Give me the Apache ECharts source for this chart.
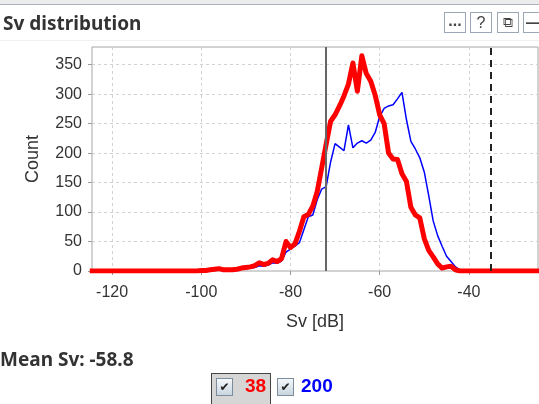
<!DOCTYPE html>
<html>
<head>
<meta charset="utf-8">
<script src="https://cdn.jsdelivr.net/npm/echarts@6/dist/echarts.min.js"></script>
<style>
  html, body { margin: 0; padding: 0; background: #fff; }
  #wrap { position: relative; width: 539px; height: 404px; overflow: hidden; font-family: "Liberation Sans", Arial, sans-serif; }
  #chart { position: absolute; left: 0; top: 0; width: 539px; height: 404px; }
  .topband { position: absolute; left: 0; top: 0; width: 539px; height: 4px; background: #ececec; border-bottom: 1px solid #aab1b8; }
  .hdrline { position: absolute; left: 0; top: 40px; width: 539px; height: 1px; background: #f0f0f0; }
  .title { position: absolute; left: 3px; top: 10px; font: bold 19px "Noto Sans", sans-serif; color: #333; }
  .btn { position: absolute; top: 12px; width: 20px; height: 19px; border: 1px solid #9aa8b6; background: #fff; color: #444; text-align: center; font: 16px "Liberation Sans", sans-serif; line-height: 19px; }
  .mean { position: absolute; left: 0; top: 346px; font: bold 19px "Noto Sans", sans-serif; color: #333; }
  .legbox { position: absolute; left: 211px; top: 373px; width: 58px; height: 32px; background: #d6d6d6; border: 1px solid #444; }
  .chk { position: absolute; top: 378px; width: 15px; height: 16px; border: 1px solid #7d8d9c; background: linear-gradient(#f4f8fb, #c9d5df); font: bold 12px "DejaVu Sans", sans-serif; color: #222; text-align: center; line-height: 16px; }
  .leg { position: absolute; top: 375px; font: bold 19px "Liberation Sans", Arial, sans-serif; }
</style>
</head>
<body>
<div id="wrap">
  <div id="chart"></div>
  <div class="topband"></div>
  <div class="hdrline"></div>
  <div class="title">Sv distribution</div>
  <div class="btn" style="left:444px;font-weight:bold;line-height:15px;">...</div>
  <div class="btn" style="left:470px;">?</div>
  <div class="btn" style="left:497px;font-size:14px;">&#x29C9;</div>
  <div class="btn" style="left:523px;font-weight:bold;">&#x2014;</div>
  <div class="mean">Mean Sv: -58.8</div>
  <div class="legbox"></div>
  <div class="chk" style="left:216px;">&#x2714;</div>
  <div class="leg" style="left:245px;color:#ff0000;">38</div>
  <div class="chk" style="left:277px;">&#x2714;</div>
  <div class="leg" style="left:301px;color:#0000ff;">200</div>
</div>
<script>
// Sv bin centres [dB]
const svBins = [-125, -101, -100, -99, -98, -97, -96, -95, -94, -93, -92, -91, -90, -89, -88, -87, -86,
  -85, -84, -83, -82, -81, -80, -79, -78, -77, -76, -75, -74, -73, -72, -71, -70, -69, -68, -67, -66,
  -65, -64, -63, -62, -61, -60, -59, -58, -57, -56, -55, -54, -53, -52, -51, -50, -49, -48, -47, -46,
  -45, -44, -43, -42, -41, -24];

// counts for ping set "38" (red)
const count38 = [0, 0, 1, 1, 2, 3, 4, 2, 2, 2, 3, 5, 6, 7, 9, 14, 11,
  13, 19, 16, 21, 50, 40, 46, 67, 92, 96, 110, 135, 175, 215, 254, 265, 280, 297, 317, 353,
  305, 365, 335, 322, 298, 265, 250, 200, 190, 189, 165, 152, 108, 95, 90, 55, 35, 24, 12, 5,
  7, 8, 2, 0, 0, 0];

// counts for ping set "200" (blue)
const count200 = [0, 0, 0, 0, 1, 1, 2, 1, 1, 2, 2, 3, 4, 5, 6, 9, 8,
  10, 14, 13, 17, 32, 37, 42, 48, 70, 92, 95, 121, 139, 143, 185, 216, 210, 204, 248, 209,
  217, 221, 217, 222, 235, 262, 276, 280, 282, 292, 303, 257, 220, 207, 192, 168, 128, 85, 60, 42,
  25, 16, 7, 2, 0, 0];

const xTicks = [-120, -100, -80, -60, -40];
const yTicks = [0, 50, 100, 150, 200, 250, 300, 350];
const thresholdMin = -72;   // solid line
const thresholdMax = -35;   // dashed line

const toPairs = (xs, ys) => xs.map((x, i) => [x, ys[i]]);

const chart = echarts.init(document.getElementById('chart'));
const font = '"Liberation Sans", Arial, sans-serif';

chart.setOption({
  animation: false,
  grid: {
    left: 92, top: 47, right: 1, bottom: 133,
    show: true, borderColor: '#a6a6a6', borderWidth: 1, backgroundColor: 'transparent'
  },
  xAxis: {
    type: 'value',
    min: -124.5,
    max: -24.5,
    name: 'Sv [dB]',
    nameLocation: 'middle',
    nameGap: 42,
    nameTextStyle: { fontFamily: font, fontSize: 18, color: '#333' },
    axisLine: { show: false },
    axisTick: { show: true, customValues: xTicks, length: 4, lineStyle: { color: '#999' } },
    axisLabel: { customValues: xTicks, margin: 14, fontFamily: font, fontSize: 16, color: '#333' },
    splitLine: { show: true, lineStyle: { color: '#d2d2d2', type: [3, 3], width: 1 } }
  },
  yAxis: {
    type: 'value',
    min: 0,
    max: 380,
    name: 'Count',
    nameLocation: 'middle',
    nameGap: 50,
    nameTextStyle: { fontFamily: font, fontSize: 18, color: '#333' },
    axisLine: { show: false },
    axisTick: { show: true, customValues: yTicks, length: 4, lineStyle: { color: '#999' } },
    axisLabel: { customValues: yTicks, margin: 10, fontFamily: font, fontSize: 16, color: '#333' },
    splitLine: { show: true, lineStyle: { color: '#d2d2d2', type: [3, 3], width: 1 } }
  },
  series: [
    {
      name: '200',
      type: 'line',
      data: toPairs(svBins, count200),
      showSymbol: false,
      lineStyle: { color: '#0000ff', width: 1.5 },
      markLine: {
        silent: true,
        symbol: 'none',
        label: { show: false },
        data: [
          { xAxis: thresholdMin, lineStyle: { color: '#666', width: 2, type: 'solid' } },
          { xAxis: thresholdMax, lineStyle: { color: '#222', width: 2, type: [7, 5] } }
        ]
      }
    },
    {
      name: '38',
      type: 'line',
      data: toPairs(svBins, count38),
      showSymbol: false,
      lineStyle: { color: '#ff0000', width: 5, join: 'round' }
    }
  ]
});
</script>
</body>
</html>
